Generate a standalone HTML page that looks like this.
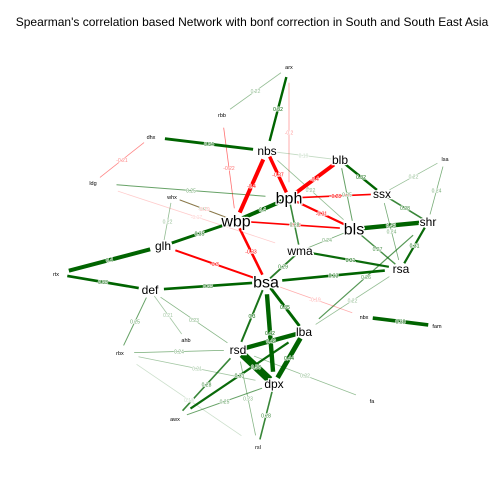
<!DOCTYPE html>
<html><head><meta charset="utf-8"><style>
body{margin:0;background:#fff}
svg{display:block;font-family:"Liberation Sans",sans-serif}
</style></head><body>
<svg id="chart" width="504" height="504" viewBox="0 0 504 504">
<rect width="504" height="504" fill="#fff"/>
<text x="252" y="26" text-anchor="middle" font-size="12" fill="#000">Spearman's correlation based Network with bonf correction in South and South East Asia</text>
<g id="edges"></g>
<g id="elabels"></g>
<g id="nodes"></g>
</svg>
<script>
const nodeNames=["arx","rbb","dhx","ldg","nbs","blb","lsa","bph","ssx","whx","wbp","bls","shr","glh","wma","rsa","rtx","def","bsa","nbx","fam","ahb","rsd","lba","rbx","dpx","fa","awx","rsl"];
const nodeX=[289,222,151,93,267,340,445,289,382,172,236,354,428,163,300,401,56,150,266,364,437,186,238,304,120,274,372,175,258];
const nodeY=[67,115,137,183,151,160,159,198,194,197,221,229,222,246,251,269,274,290,282,317,326,340,350,332,353,384,401,419,447];
const nodeBig=[0,0,0,0,1,1,0,2,1,0,2,2,1,1,1,1,0,1,2,0,0,0,1,1,0,1,0,0,0];
const edgeFrom=["arx","arx","arx","rbb","dhx","dhx","ldg","ldg","whx","whx","whx","glh","glh","rtx","def","def","def","def","nbs","nbs","nbs","nbs","blb","bph","bph","bph","wbp","glh","wbp","blb","ssx","bls","bls","ssx","shr","lsa","lsa","wma","bsa","bsa","bsa","bsa","bsa","lba","lba","rsd","awx","awx","awx","rsl","rsl","rbx","rbx","rbx","rsd","nbx","lba","lba","bsa","wma","blb","bph"];
const edgeTo=["rbb","nbs","bph","wbp","nbs","ldg","bph","wma","glh","wbp","wbp","wbp","rtx","def","bsa","rbx","ahb","rsd","wbp","bph","blb","bls","bph","ssx","bls","wbp","bsa","bsa","bls","ssx","shr","shr","rsa","rsa","rsa","ssx","shr","rsa","rsa","wma","lba","rsd","dpx","rsd","dpx","dpx","rsd","lba","dpx","rsd","dpx","rsd","dpx","rsl","fa","fam","rsa","shr","nbx","bls","bls","wma"];
const edgeW=[0.22,0.32,-0.2,-0.22,0.34,-0.21,0.25,-0.17,0.22,0.25,-0.19,0.35,0.4,0.33,0.33,0.25,0.21,0.23,-0.4,-0.37,0.19,0.22,-0.4,-0.28,-0.31,0.4,-0.33,-0.3,-0.28,0.32,0.28,0.42,0.27,0.24,0.31,0.22,0.24,0.31,0.33,0.29,0.35,0.3,0.42,0.42,0.44,0.58,0.28,0.31,0.25,0.23,0.28,0.24,0.21,0.18,0.22,0.38,0.22,0.26,-0.19,0.24,0.25,0.28];
const NS="http://www.w3.org/2000/svg";
const idx=n=>nodeNames.indexOf(n);
const eg=document.getElementById('edges'),lg=document.getElementById('elabels'),ng=document.getElementById('nodes');
function widthOf(w){return Math.max(0.8,(Math.abs(w)-0.2)*20);}
function opacOf(w){return Math.min(1,Math.max(0.2,(Math.abs(w)-0.15)*(w>0?6:8)));}
edgeFrom.forEach((f,i)=>{
  const a=idx(f),b=idx(edgeTo[i]),w=edgeW[i];
  const x1=nodeX[a],y1=nodeY[a],x2=nodeX[b],y2=nodeY[b];
  const l=document.createElementNS(NS,'line');
  
  
  const sh=0.12;
  l.setAttribute('x1',x1+(x2-x1)*sh);l.setAttribute('y1',y1+(y2-y1)*sh);
  l.setAttribute('x2',x2-(x2-x1)*sh);l.setAttribute('y2',y2-(y2-y1)*sh);
  l.setAttribute('stroke',w>0?'#006400':'#ff0000');
  l.setAttribute('stroke-width',widthOf(w));
  l.setAttribute('stroke-opacity',opacOf(w));
  eg.appendChild(l);
  const t=document.createElementNS(NS,'text');
  
  
  t.setAttribute('x',(x1+x2)/2);t.setAttribute('y',(y1+y2)/2+2);
  t.setAttribute('text-anchor','middle');t.setAttribute('font-size','5');
  t.setAttribute('fill',w>0?'#006400':'#ff0000');
  t.setAttribute('fill-opacity',opacOf(w));
  t.setAttribute('stroke','#fff');t.setAttribute('stroke-width','1');t.setAttribute('paint-order','stroke');
  t.textContent=String(w);
  lg.appendChild(t);
});
nodeNames.forEach((n,i)=>{
  const t=document.createElementNS(NS,'text');
  
  
  t.setAttribute('x',nodeX[i]);t.setAttribute('y',nodeY[i]+(nodeBig[i]==2?5.5:nodeBig[i]==1?4:2));
  t.setAttribute('text-anchor','middle');
  t.setAttribute('font-size',nodeBig[i]==2?16:nodeBig[i]==1?12:5.5);
  t.setAttribute('fill','#000');
  t.setAttribute('stroke','#fff');t.setAttribute('stroke-width',nodeBig[i]?2.5:1.2);t.setAttribute('paint-order','stroke');
  t.textContent=n;
  ng.appendChild(t);
});
</script>
</body></html>
